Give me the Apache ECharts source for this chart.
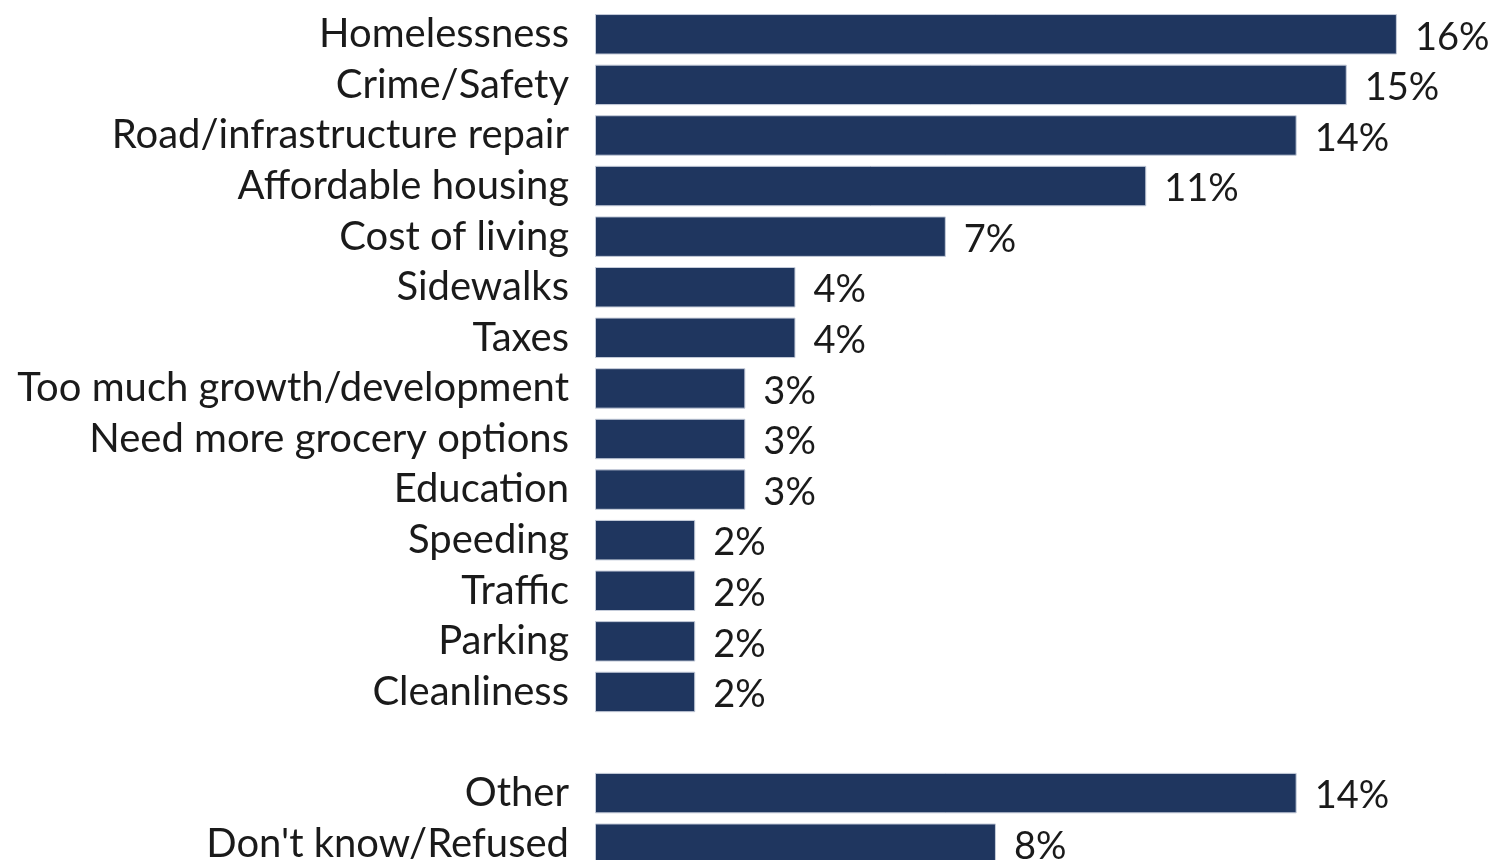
<!DOCTYPE html>
<html>
<head>
<meta charset="utf-8">
<script src="https://cdn.jsdelivr.net/npm/echarts@6/dist/echarts.min.js"></script>
<style>
  html, body { margin: 0; padding: 0; background: #fff; }
  #main { width: 1488px; height: 860px; }
</style>
</head>
<body>
<div id="main"></div>
<script>
// 类别（从上到下），空字符串是 Cleanliness 和 Other 之间的空行
var categories = ['Homelessness', 'Crime/Safety', 'Road/infrastructure repair', 'Affordable housing',
  'Cost of living', 'Sidewalks', 'Taxes', 'Too much growth/development', 'Need more grocery options',
  'Education', 'Speeding', 'Traffic', 'Parking', 'Cleanliness', '', 'Other', "Don't know/Refused"];
var values = [16, 15, 14, 11, 7, 4, 4, 3, 3, 3, 2, 2, 2, 2, null, 14, 8];

var chart = echarts.init(document.getElementById('main'));
chart.setOption({
  backgroundColor: '#fff',
  animation: false,
  grid: {
    top: 9,
    bottom: -9,
    left: 595,
    right: 41,
    containLabel: false,
    outerBoundsMode: 'none'
  },
  xAxis: {
    type: 'value',
    min: 0,
    max: 17,
    show: false
  },
  yAxis: {
    type: 'category',
    inverse: true,
    data: categories,
    axisLine: { show: false },
    axisTick: { show: false },
    axisLabel: {
      interval: 0,
      color: '#1a1a1a',
      fontFamily: 'Lato',
      fontSize: 40,
      margin: 26,
      padding: [0, 0, 8, 0]
    }
  },
  series: [{
    type: 'bar',
    data: values,
    barCategoryGap: '20%',
    itemStyle: {
      color: '#1f365f',
      borderColor: '#c5ccda',
      borderWidth: 1
    },
    label: {
      show: true,
      position: 'right',
      distance: 18,
      formatter: '{c}%',
      color: '#1a1a1a',
      fontFamily: 'Lato',
      fontSize: 38,
      offset: [0, 3]
    }
  }]
});
</script>
</body>
</html>
